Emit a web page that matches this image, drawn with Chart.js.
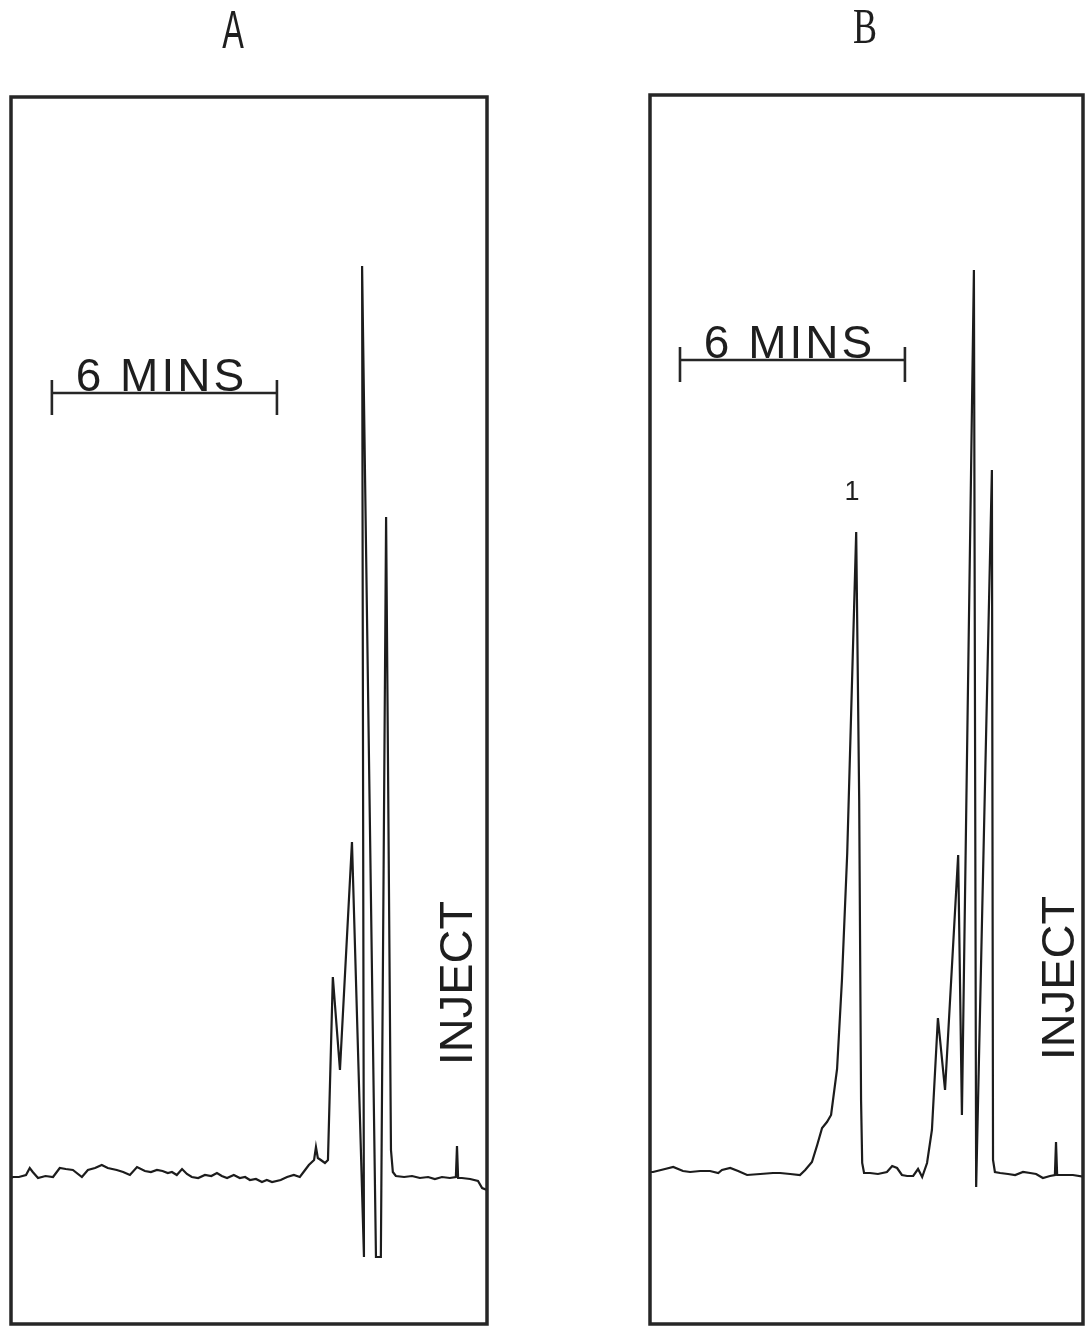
<!DOCTYPE html>
<html>
<head>
<meta charset="utf-8">
<script src="https://cdn.jsdelivr.net/npm/chart.js@4.4.1/dist/chart.umd.min.js"></script>
<style>
  html, body { margin: 0; padding: 0; background: #fff; overflow: hidden; }
  #graficoA { position: absolute; left: 0; top: 0; }
  #graficoB { position: absolute; left: 560px; top: 0; }
</style>
</head>
<body>
<canvas id="graficoA" width="560" height="1326"></canvas>
<canvas id="graficoB" width="525" height="1326"></canvas>
<script>
// tempo em minutos desde a injecao (cresce para a esquerda), sinal em unidades arbitrarias
var tempoA = [-0.80, -0.67, -0.56, -0.35, -0.13, -0.03, 0.00, 0.03, 0.19, 0.40, 0.59, 0.77, 0.99, 1.20, 1.41, 1.63,
  1.71, 1.76, 1.89, 2.03, 2.16, 2.53, 2.48, 2.80, 3.12, 3.31, 3.44, 3.52, 3.63, 3.71, 3.76, 3.81, 3.95, 4.05, 4.19,
  4.35, 4.53, 4.70, 4.93, 5.07, 5.20, 5.36, 5.52, 5.65, 5.79, 5.95, 6.13, 6.27, 6.40, 6.55, 6.72, 6.90, 7.07, 7.20,
  7.33, 7.47, 7.60, 7.71, 7.85, 8.00, 8.16, 8.32, 8.53, 8.72, 8.90, 9.07, 9.31, 9.47, 9.65, 9.84, 10.00, 10.24,
  10.43, 10.59, 10.77, 10.97, 11.17, 11.31, 11.39, 11.49, 11.68, 11.84, 11.89];
var sinalA = [-1.3, -1.1, -0.4, -0.2, -0.1, -0.1, 3.1, 0.0, -0.1, 0.0, -0.2, 0.0, -0.1, 0.1, 0.0, 0.1,
  0.5, 2.7, 66.0, -8.0, -8.0, 91.1, -8.0, 33.5, 10.7, 20.0, 1.7, 1.4, 1.7, 1.9, 3.0, 1.7, 1.2, 0.7, 0.0,
  0.2, 0.0, -0.3, -0.5, -0.3, -0.5, -0.2, -0.3, 0.0, -0.1, 0.2, -0.1, 0.1, 0.4, 0.1, 0.2, -0.1, 0.0, 0.3,
  0.8, 0.2, 0.5, 0.4, 0.6, 0.7, 0.5, 0.6, 1.0, 0.2, 0.5, 0.7, 0.9, 1.2, 0.9, 0.7, 0.0, 0.7,
  0.8, 0.9, 0.0, 0.1, -0.1, 0.5, 0.9, 0.2, 0.0, 0.0, -0.1];

var tempoB = [-0.77, -0.45, -0.16, -0.03, 0.00, 0.03, 0.16, 0.35, 0.53, 0.69, 0.88, 1.09, 1.28, 1.49, 1.63,
  1.68, 1.71, 2.13, 2.19, 2.51, 2.61, 2.96, 3.15, 3.31, 3.44, 3.57, 3.68, 3.81, 3.97, 4.11, 4.24, 4.37, 4.51,
  4.75, 4.96, 5.12, 5.17, 5.20, 5.25, 5.33, 5.41, 5.57, 5.71, 5.84, 6.00, 6.11, 6.24, 6.37, 6.51, 6.69, 6.83,
  7.09, 7.36, 7.55, 7.89, 8.24, 8.48, 8.69, 8.91, 9.01, 9.23, 9.49, 9.76, 9.95, 10.21, 10.43, 10.75, 10.83];
var sinalB = [0.0, 0.2, 0.2, 0.2, 3.5, 0.2, 0.1, -0.1, 0.3, 0.4, 0.5, 0.2, 0.3, 0.4, 0.5,
  1.7, 70.7, -1.0, 90.7, 6.2, 32.2, 8.7, 15.9, 4.7, 1.4, 0.0, 0.8, 0.1, 0.1, 0.2, 0.9, 1.1, 0.5,
  0.3, 0.4, 0.4, 1.4, 7.7, 37.7, 64.5, 53.7, 32.3, 19.7, 10.8, 6.2, 5.5, 4.9, 3.2, 1.5, 0.7, 0.2,
  0.3, 0.4, 0.4, 0.3, 0.2, 0.6, 0.9, 0.7, 0.4, 0.6, 0.6, 0.5, 0.6, 1.0, 0.8, 0.5, 0.5];

// barra de escala de 6 minutos (inicio e fim, em minutos)
var escalaA = [4.8, 10.8];
var escalaB = [4.03, 10.03];
// picos numerados no painel B
var rotulosPicosB = ['1'];
var tempoPicosB = [5.44];

var Cromatograma = Cromatograma || {};

Cromatograma.Moldura = {
  id: 'moldura',
  afterDraw: function(chart, args, o) {
    var ctx = chart.ctx, a = chart.chartArea;
    var x = chart.scales.x, y = chart.scales.y;
    ctx.save();
    ctx.strokeStyle = '#262626';
    ctx.fillStyle = '#1e1e1e';
    ctx.lineWidth = 3.5;
    ctx.strokeRect(a.left, a.top, a.right - a.left, a.bottom - a.top);

    // letra do painel
    ctx.save();
    ctx.translate(o.letra.x, o.letra.y);
    ctx.scale(o.letra.escalaX, 1);
    ctx.font = o.letra.fonte;
    ctx.textAlign = 'center';
    ctx.textBaseline = 'middle';
    ctx.fillText(o.letra.texto, 0, 0);
    ctx.restore();

    // barra de 6 minutos
    var x1 = x.getPixelForValue(o.escala[0]), x2 = x.getPixelForValue(o.escala[1]);
    var yb = y.getPixelForValue(o.escalaY);
    ctx.lineWidth = 2.6;
    ctx.beginPath();
    ctx.moveTo(x1, yb); ctx.lineTo(x2, yb);
    ctx.moveTo(x1, yb - 13); ctx.lineTo(x1, yb + 22);
    ctx.moveTo(x2, yb - 13); ctx.lineTo(x2, yb + 22);
    ctx.stroke();
    ctx.font = '46px "Liberation Sans", Arial, sans-serif';
    ctx.letterSpacing = '3px';
    ctx.textAlign = 'center';
    ctx.textBaseline = 'alphabetic';
    ctx.fillText('6 MINS', (x1 + x2) / 2 - 3, yb - 2);
    ctx.letterSpacing = '0px';

    // INJECT na vertical
    ctx.save();
    ctx.translate(x.getPixelForValue(o.injetar[0]), y.getPixelForValue(o.injetar[1]));
    ctx.rotate(-Math.PI / 2);
    ctx.font = '47px "Liberation Sans", Arial, sans-serif';
    ctx.textAlign = 'center';
    ctx.textBaseline = 'middle';
    ctx.fillText('INJECT', 0, 0);
    ctx.restore();

    // numeros dos picos
    ctx.font = '27px "Liberation Sans", Arial, sans-serif';
    ctx.textAlign = 'center';
    ctx.textBaseline = 'alphabetic';
    (o.picos || []).forEach(function(p) {
      ctx.fillText(p.rotulo, x.getPixelForValue(p.t), y.getPixelForValue(p.s));
    });
    ctx.restore();
  }
};

Cromatograma.Painel = (function() {

  function Painel(id, tempo, sinal, eixoX, eixoY, padding, moldura) {
    this.ctx = document.getElementById(id).getContext('2d');
    this.tempo = tempo;
    this.sinal = sinal;
    this.eixoX = eixoX;
    this.eixoY = eixoY;
    this.padding = padding;
    this.moldura = moldura;
  }

  Painel.prototype.iniciar = function() {
    var sinal = this.sinal;
    var pontos = this.tempo.map(function(t, i) { return { x: t, y: sinal[i] }; });
    return new Chart(this.ctx, {
      type: 'scatter',
      data: {
        datasets: [{
          data: pontos,
          showLine: true,
          borderColor: '#1c1c1c',
          borderWidth: 2.2,
          pointRadius: 0,
          tension: 0
        }]
      },
      options: {
        responsive: false,
        animation: false,
        devicePixelRatio: 1,
        layout: { padding: this.padding },
        plugins: {
          legend: { display: false },
          tooltip: { enabled: false },
          moldura: this.moldura
        },
        scales: {
          x: { type: 'linear', reverse: true, min: this.eixoX[0], max: this.eixoX[1], display: false },
          y: { type: 'linear', min: this.eixoY[0], max: this.eixoY[1], display: false }
        }
      },
      plugins: [Cromatograma.Moldura]
    });
  };

  return Painel;

}());

var graficoA = new Cromatograma.Painel('graficoA', tempoA, sinalA, [-0.80, 11.89], [-14.7, 108.0],
  { left: 11, right: 73, top: 97, bottom: 2 },
  {
    letra: { texto: 'A', x: 233, y: 33, fonte: '54px "Liberation Sans", Arial, sans-serif', escalaX: 0.6 },
    escala: escalaA, escalaY: 78.4,
    injetar: [-0.05, 19.4],
    picos: []
  });
graficoA.iniciar();

var graficoB = new Cromatograma.Painel('graficoB', tempoB, sinalB, [-0.72, 10.83], [-14.7, 108.2],
  { left: 90, right: 2, top: 95, bottom: 2 },
  {
    letra: { texto: 'B', x: 305, y: 30, fonte: '50px "Liberation Serif", serif', escalaX: 0.72 },
    escala: escalaB, escalaY: 81.7,
    injetar: [-0.13, 19.9],
    picos: rotulosPicosB.map(function(r, i) { return { rotulo: r, t: tempoPicosB[i], s: 67.7 }; })
  });
graficoB.iniciar();
</script>
</body>
</html>
